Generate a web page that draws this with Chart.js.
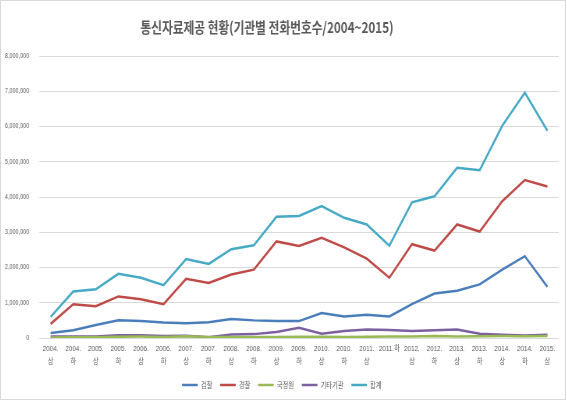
<!DOCTYPE html>
<html>
<head>
<meta charset="utf-8">
<script src="https://cdn.jsdelivr.net/npm/chart.js@4.4.1/dist/chart.umd.min.js"></script>
<style>
    html, body { margin: 0; padding: 0; background: #fff; }
    #frame {
        position: absolute; left: 0; top: 0;
        width: 566px; height: 400px;
        box-sizing: border-box;
        border: 1px solid #d9d9d9;
        overflow: hidden;
    }
    /* the original picture is horizontally condensed */
    #myChart { position: absolute; left: 0; top: 0; transform: scaleX(0.78); transform-origin: 0 0; }
</style>
</head>
<body>
<div id="frame"><canvas id="myChart" width="723" height="398"></canvas></div>
<script>
const titleText = '통신자료제공 현황(기관별 전화번호수/2004~2015)';

const tickLabels = [
    ['2004.', '상'], ['2004.', '하'], ['2005.', '상'], ['2005.', '하'],
    ['2006.', '상'], ['2006.', '하'], ['2007.', '상'], ['2007.', '하'],
    ['2008.', '상'], ['2008.', '하'], ['2009.', '상'], ['2009.', '하'],
    ['2010.', '상'], ['2010.', '하'], ['2011.', '상'], '2011.하',
    ['2012.', '상'], ['2012.', '하'], ['2013.', '상'], ['2013.', '하'],
    ['2014.', '상'], ['2014.', '하'], ['2015.', '상']
];

const prosecution = [140000, 220000, 370000, 500000, 480000, 440000, 420000, 450000, 540000, 500000, 480000, 480000,
    710000, 610000, 660000, 610000, 960000, 1260000, 1340000, 1520000, 1940000, 2320000, 1450000];
const police = [400000, 960000, 900000, 1180000, 1100000, 960000, 1680000, 1560000, 1800000, 1940000, 2740000, 2610000,
    2840000, 2570000, 2250000, 1710000, 2660000, 2480000, 3220000, 3020000, 3880000, 4480000, 4300000];
const nis = [15000, 20000, 20000, 35000, 40000, 30000, 50000, 30000, 25000, 25000, 30000, 35000,
    35000, 30000, 35000, 40000, 45000, 55000, 45000, 50000, 55000, 50000, 60000];
const others = [40000, 40000, 45000, 75000, 80000, 60000, 65000, 20000, 100000, 110000, 170000, 290000,
    120000, 200000, 240000, 230000, 200000, 220000, 240000, 120000, 90000, 70000, 90000];
const total = [600000, 1320000, 1380000, 1820000, 1710000, 1500000, 2240000, 2100000, 2520000, 2630000, 3440000, 3460000,
    3740000, 3410000, 3220000, 2620000, 3850000, 4020000, 4830000, 4760000, 6020000, 6960000, 5880000];

const textColor = '#595959';

// title sits a bit left of centre in the original
const titlePlugin = {
    id: 'chartTitle',
    afterDraw(chart) {
        const ctx = chart.ctx;
        ctx.save();
        ctx.font = 'bold 15px "Noto Sans CJK KR"';
        ctx.fillStyle = textColor;
        ctx.textAlign = 'center';
        ctx.textBaseline = 'middle';
        ctx.fillText(titleText, 341, 26);
        ctx.restore();
    }
};

function series(label, data, color) {
    return {
        label: label,
        data: data,
        borderColor: color,
        backgroundColor: color,
        borderWidth: 2.5,
        pointRadius: 0,
        tension: 0
    };
}

const ctx = document.getElementById('myChart').getContext('2d');
const myChart = new Chart(ctx, {
    type: 'line',
    data: {
        labels: tickLabels,
        datasets: [
            series('검찰', prosecution, '#4A7EBB'),
            series('경찰', police, '#BE4B48'),
            series('국정원', nis, '#98B954'),
            series('기타기관', others, '#7D60A0'),
            series('합계', total, '#46AAC5')
        ]
    },
    options: {
        responsive: false,
        animation: false,
        devicePixelRatio: 1,
        layout: { padding: { top: 55, left: 5, right: 8, bottom: 0 } },
        plugins: {
            title: { display: false },
            tooltip: { enabled: false },
            legend: {
                position: 'bottom',
                labels: {
                    usePointStyle: true,
                    pointStyle: 'line',
                    pointStyleWidth: 20,
                    color: textColor,
                    padding: 10,
                    font: { family: '"Noto Sans CJK KR"', size: 8 }
                }
            }
        },
        scales: {
            x: {
                offset: true,
                grid: { display: false, drawTicks: false },
                border: { display: false },
                afterFit: (scale) => { scale.height = 33; },
                ticks: {
                    color: textColor,
                    maxRotation: 0,
                    autoSkip: false,
                    padding: 5,
                    font: { family: '"Liberation Sans", "Noto Sans CJK KR"', size: 8, lineHeight: 1.55 }
                }
            },
            y: {
                min: 0,
                max: 8000000,
                border: { display: false },
                grid: { color: '#d9d9d9', drawTicks: false },
                // chart.js counts the tick padding twice here; keep it once
                afterFit: (scale) => { scale.width -= scale.options.ticks.padding; },
                ticks: {
                    stepSize: 1000000,
                    color: textColor,
                    padding: 13,
                    font: { family: '"Liberation Sans"', size: 7 },
                    callback: (v) => v.toLocaleString('en-US')
                }
            }
        }
    },
    plugins: [titlePlugin]
});
</script>
</body>
</html>
